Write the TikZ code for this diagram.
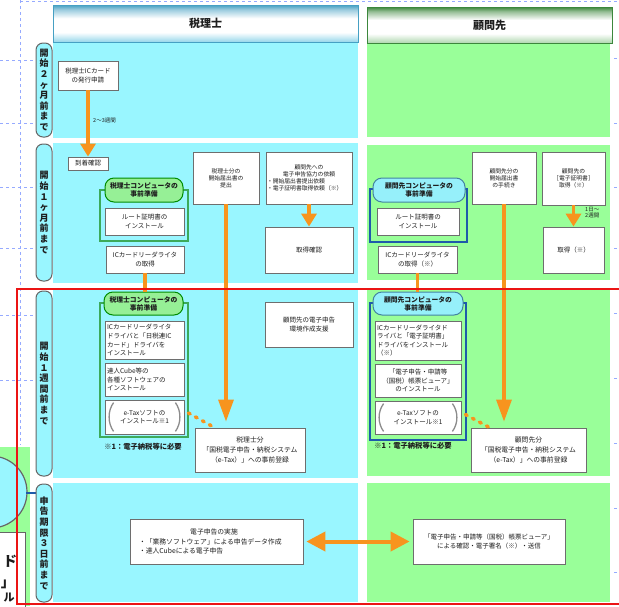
\documentclass[tikz,border=0pt]{standalone}
\usepackage{fontspec}
\setmainfont{Noto Sans CJK JP}
\usetikzlibrary{arrows.meta,calc,shadows}
\definecolor{cyanbg}{RGB}{153,246,255}
\definecolor{greenbg}{RGB}{153,255,153}
\definecolor{orng}{RGB}{247,148,30}
\definecolor{txt}{RGB}{30,30,30}
\definecolor{boxline}{RGB}{110,110,110}
\definecolor{grpgreen}{RGB}{60,170,90}
\definecolor{grpblue}{RGB}{30,90,170}
\definecolor{pillgreen}{RGB}{150,240,150}
\definecolor{pillcyan}{RGB}{150,240,250}
\definecolor{guide}{RGB}{150,170,255}
\definecolor{redline}{RGB}{235,20,20}
\definecolor{hdrAtop}{RGB}{70,160,195}
\definecolor{hdrAbot}{RGB}{150,215,235}
\definecolor{hdrBtop}{RGB}{60,135,60}
\definecolor{hdrBbot}{RGB}{175,215,175}
\pgfdeclareverticalshading{hdrshA}{100bp}{color(0bp)=(hdrAbot); color(25bp)=(hdrAbot); color(38bp)=(white); color(57bp)=(white); color(69bp)=(hdrAtop!55!white); color(75bp)=(hdrAtop); color(100bp)=(hdrAtop)}
\pgfdeclareverticalshading{hdrshB}{100bp}{color(0bp)=(hdrBbot); color(25bp)=(hdrBbot); color(38bp)=(white); color(57bp)=(white); color(69bp)=(hdrBtop!55!white); color(75bp)=(hdrBtop); color(100bp)=(hdrBtop)}
\tikzset{
  x=1pt, y=-1pt,
  box/.style={draw=boxline, fill=white, line width=0.8pt, inner sep=1pt, text=txt,
    align=center, font=\fontsize{6.5}{8.3}\selectfont,
    drop shadow={shadow xshift=0.8pt, shadow yshift=-0.8pt, fill=black!50, opacity=0.4}},
  smalltext/.style={font=\fontsize{5.8}{7.2}\selectfont},
  bigtext/.style={font=\fontsize{6.8}{9.8}\selectfont},
  lanepill/.style={draw=black!60, fill=cyanbg, rounded corners=7pt, line width=1pt,
    minimum width=16pt, inner sep=0pt, align=center,
    font=\fontsize{9}{10.6}\selectfont\bfseries, text=txt},
  hdr/.style={line width=1pt, inner sep=0pt, font=\fontsize{11}{12}\selectfont\bfseries, text=txt},
  grpA/.style={draw=grpgreen, line width=1.5pt, inner sep=0pt},
  grpB/.style={draw=grpblue, line width=1.5pt, inner sep=0pt},
  titleA/.style={draw=black!45!green, fill=pillgreen, rounded corners=9pt, line width=1pt,
    align=center, font=\fontsize{6.8}{8}\selectfont\bfseries, text=txt, inner sep=0pt},
  titleB/.style={draw=black!40!cyan, fill=pillcyan, rounded corners=9pt, line width=1pt,
    align=center, font=\fontsize{6.8}{8}\selectfont\bfseries, text=txt, inner sep=0pt},
  foot/.style={font=\fontsize{7.3}{8}\selectfont\bfseries, text=txt, inner sep=0pt},
  lbl/.style={font=\fontsize{5.5}{6.8}\selectfont, text=txt, inner sep=0pt, align=left},
  flow/.style={draw=orng, line width=3.2pt, -{Triangle[width=15pt,length=13pt]}},
  longflow/.style={draw=orng, line width=3.2pt, -{Triangle[width=15pt,length=22pt]}},
  plainflow/.style={draw=orng, line width=3.2pt},
  dotflow/.style={draw=orng, line width=3.5pt, dash pattern=on 2pt off 6pt, line cap=round},
  bothflow/.style={draw=orng, line width=4pt,
    {Triangle[width=19pt,length=19pt]}-{Triangle[width=19pt,length=19pt]}},
  brk/.style={draw=black!45, line width=1.3pt},
  guideline/.style={draw=guide, dashed, line width=0.6pt},
}
\begin{document}
\begin{tikzpicture}
\useasboundingbox (0,0) rectangle (619,606);
\clip (0,0) rectangle (619,606);
\fill[white] (0,0) rectangle (619,606);

% guides
\draw[guideline] (20,1) -- (619,1);
\draw[guideline] (20,0) -- (20,445);
\foreach \yy in {60,123,187,248,315,380}{\draw[guideline] (0,\yy) -- (35,\yy);}
\foreach \yy in {58,123,187,248,313,378,443,508,572}{\draw[guideline] (614,\yy) -- (619,\yy);}

% fragments of neighbouring slide at left
\fill[greenbg] (0,447) rectangle (30,606);
\draw[black!60, fill=cyanbg, line width=1.2pt] (-9,492) circle (36pt);
\draw[black!60, fill=white, line width=1pt] (-5,532) rectangle (25,612);
\node[font=\fontsize{14}{14}\selectfont\bfseries, text=txt] (fragA) at (10,561) {ド};
\node[font=\fontsize{14}{14}\selectfont\bfseries, text=txt] (fragB) at (8,584) {」};
\node[font=\fontsize{11}{11}\selectfont\bfseries, text=txt] (fragC) at (9,598) {ル};
\coordinate (fragD) at (26,493);
\coordinate (fragE) at (36,493);
\draw[grpblue, line width=1.5pt] (fragD) -- (fragE);

% lane backgrounds
\fill[cyanbg] (53,42) rectangle (358,138);
\fill[cyanbg] (53,143) rectangle (358,283);
\fill[cyanbg] (53,289) rectangle (358,478);
\fill[cyanbg] (53,483) rectangle (358,602);
\fill[greenbg] (367,42) rectangle (610,137);
\fill[greenbg] (367,145) rectangle (610,280);
\fill[greenbg] (367,289) rectangle (610,476);
\fill[greenbg] (367,483) rectangle (610,602);

% headers
\node[hdr, draw=hdrAtop, shading=hdrshA,
  minimum width=305pt, minimum height=37pt] (hdrA) at (205.5,23.5) {税理士};
\node[hdr, draw=hdrBtop, shading=hdrshB,
  minimum width=245pt, minimum height=36pt] (hdrB) at (489.5,25) {顧問先};

% phase pills
\node[lanepill, minimum height=94pt] (p1) at (44,90) {開\\始\\２\\ヶ\\月\\前\\ま\\で};
\node[lanepill, minimum height=137pt] (p2) at (44,212.5) {開\\始\\１\\ヶ\\月\\前\\ま\\で};
\node[lanepill, minimum height=185pt] (p3) at (44,383.5) {開\\始\\１\\週\\間\\前\\ま\\で};
\node[lanepill, minimum height=118pt] (p4) at (44,543) {申\\告\\期\\限\\３\\日\\前\\ま\\で};

% ---- row 1
\node[box, minimum width=60pt, minimum height=29pt] (a1) at (88,75.5) {税理士ICカード\\の発行申請};
\node[lbl] (a1l) at (93,120) [anchor=west] {2～3週間};

% ---- row 2, 税理士
\node[box, minimum width=40pt, minimum height=13pt] (a2) at (88,163.5) {到着確認};
\node[grpA, minimum width=88pt, minimum height=51pt] (gA2) at (144,215.5) {};
\node[titleA, minimum width=78pt, minimum height=24pt] (tA2) at (144,190) {税理士コンピュータの\\事前準備};
\node[box, minimum width=79pt, minimum height=27pt] (rA2) at (144.5,221.5) {ルート証明書の\\インストール};
\node[box, minimum width=78pt, minimum height=27pt] (icA) at (145,259.5) {ICカードリーダライタ\\の取得};
\node[box, smalltext, minimum width=66pt, minimum height=52pt] (kA) at (226,178) {税理士分の\\開始届出書の\\提出};
\node[box, smalltext, text width=84pt, align=left, minimum height=52pt] (reqA) at (309,178)
  {\makebox[84pt]{顧問先への}\\\makebox[84pt]{電子申告協力の依頼}\\・開始届出書提出依頼\\・電子証明書取得依頼（※）};
\node[box, minimum width=88pt, minimum height=46pt] (chkA) at (309,250) {取得確認};

% ---- row 2, 顧問先
\node[grpB, minimum width=97pt, minimum height=53pt] (gB2) at (418.5,215.5) {};
\node[titleB, minimum width=92pt, minimum height=24pt] (tB2) at (419,190) {顧問先コンピュータの\\事前準備};
\node[box, minimum width=82pt, minimum height=27pt] (rB2) at (418,221.5) {ルート証明書の\\インストール};
\node[box, minimum width=79pt, minimum height=27pt] (icB) at (417.5,259.5) {ICカードリーダライタ\\の取得（※）};
\node[box, smalltext, minimum width=64pt, minimum height=52pt] (kB) at (504,178) {顧問先分の\\開始届出書\\の手続き};
\node[box, smalltext, minimum width=63pt, minimum height=53pt] (certB) at (573.5,178.5) {顧問先の\\［電子証明書］\\取得（※）};
\node[box, minimum width=61pt, minimum height=46pt] (getB) at (573.5,250) {取得（※）};
\node[lbl] (certl) at (585,212.5) [anchor=west] {1日～\\2週間};

% ---- row 3, 税理士
\node[grpA, minimum width=88pt, minimum height=134pt] (gA3) at (144,370) {};
\node[titleA, minimum width=79pt, minimum height=23pt] (tA3) at (143.5,303.5) {税理士コンピュータの\\事前準備};
\node[box, minimum width=79pt, minimum height=38pt, align=left, text width=75pt,
  font=\fontsize{6.5}{8.7}\selectfont] (dA) at (144.5,340)
  {ICカードリーダライタ\\ドライバと「日税連IC\\カード」ドライバを\\インストール};
\node[box, minimum width=79pt, minimum height=33pt, align=left, text width=75pt,
  font=\fontsize{6.5}{8.5}\selectfont] (sA) at (144.5,379.5)
  {達人Cube等の\\各種ソフトウェアの\\インストール};
\node[box, minimum width=79pt, minimum height=34pt] (eA) at (144.5,417) {e-Taxソフトの\\インストール※1};
\draw[brk] ($(eA.north west)+(9,3)$) .. controls +(-6,8) and +(-6,-8) .. ($(eA.south west)+(9,-3)$);
\draw[brk] ($(eA.north east)+(-9,3)$) .. controls +(6,8) and +(6,-8) .. ($(eA.south east)+(-9,-3)$);
\node[foot] (footA) at (143,447) {※1：電子納税等に必要};
\node[box, minimum width=88pt, minimum height=45pt] (helpA) at (309,324.5) {顧問先の電子申告\\環境作成支援};
\node[box, bigtext, minimum width=110pt, minimum height=44pt] (regA) at (250,450)
  {税理士分\\「国税電子申告・納税システム\\（e-Tax）」への事前登録};

% ---- row 3, 顧問先
\node[grpB, minimum width=96pt, minimum height=137pt] (gB3) at (418,371.5) {};
\node[titleB, minimum width=90pt, minimum height=23pt] (tB3) at (418,303.5) {顧問先コンピュータの\\事前準備};
\node[box, minimum width=86pt, minimum height=39pt, align=left, text width=82pt,
  font=\fontsize{6.5}{8.5}\selectfont] (dB) at (418,340.5)
  {ICカードリーダライタド\\ライバと「電子証明書」\\ドライバをインストール\\（※）};
\node[box, minimum width=86pt, minimum height=33pt] (vB) at (418,380.5)
  {「電子申告・申請等\\（国税）帳票ビューア」\\のインストール};
\node[box, minimum width=86pt, minimum height=33pt] (eB) at (418,417.5) {e-Taxソフトの\\インストール※1};
\draw[brk] ($(eB.north west)+(9,3)$) .. controls +(-6,8) and +(-6,-8) .. ($(eB.south west)+(9,-3)$);
\draw[brk] ($(eB.north east)+(-9,3)$) .. controls +(6,8) and +(6,-8) .. ($(eB.south east)+(-9,-3)$);
\node[foot] (footB) at (413,446) {※1：電子納税等に必要};
\node[box, bigtext, minimum width=115pt, minimum height=44pt] (regB) at (528.5,450)
  {顧問先分\\「国税電子申告・納税システム\\（e-Tax）」への事前登録};

% ---- row 4
\node[box, minimum width=173pt, minimum height=45pt, text width=155pt, align=left,
  font=\fontsize{6.8}{9.5}\selectfont] (doA) at (216.5,541.5)
  {\makebox[150pt]{電子申告の実施}\\・「業務ソフトウェア」による申告データ作成\\・達人Cubeによる電子申告};
\node[box, minimum width=152pt, minimum height=45pt, font=\fontsize{6.5}{8.5}\selectfont] (vwB) at (489,541.5)
  {「電子申告・申請等（国税）帳票ビューア」\\による確認・電子署名（※）・送信};

% ---- connectors
\draw[flow] (a1) -- (a2);
\draw[flow] (reqA) -- (chkA);
\draw[flow] (certB) -- (getB);
\draw[plainflow] (icA.south) -- (icA.south |- tA3.north);
\draw[plainflow] (icB.south) -- (icB.south |- tB3.north);
\draw[longflow] (kA.south) -- ($(kA.south |- regA.north)+(0,-6)$);
\draw[longflow] (kB.south) -- ($(kB.south |- regB.north)+(0,-6)$);
\draw[dotflow] ($(eA.east)+(4,-4)$) -- ($(regA.north west)+(20,0)$);
\draw[dotflow] ($(eB.east)+(4,-3)$) -- ($(regB.north west)+(19,0)$);
\draw[bothflow, shorten <=3pt, shorten >=3pt] (doA.east) -- (vwB.west);

% red frame (right side lies beyond the picture edge)
\draw[redline, line width=2.5pt] (17,289) rectangle (630,604);
\end{tikzpicture}
\end{document}
